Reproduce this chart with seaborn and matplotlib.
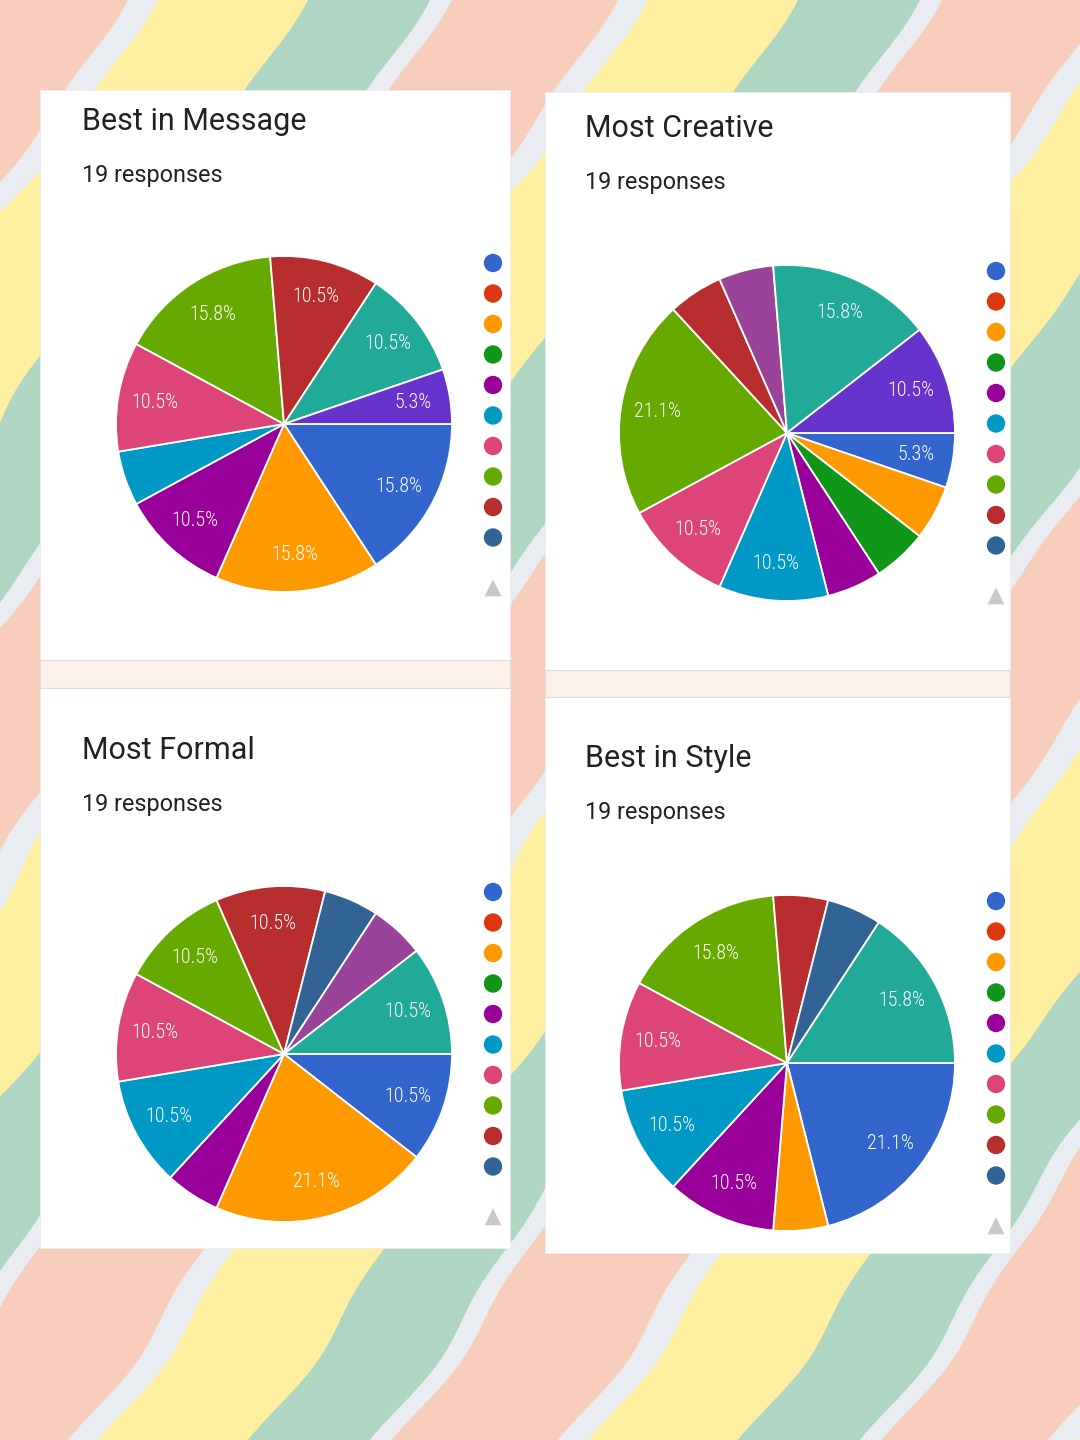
import numpy as np
import pandas as pd
import matplotlib
matplotlib.use("Agg")
import matplotlib.pyplot as plt
from matplotlib.patches import Rectangle, Polygon
from matplotlib import font_manager
import seaborn as sns

# ---------------- data ----------------
options = ["Option 1", "Option 2", "Option 3", "Option 4", "Option 5", "Option 6",
           "Option 7", "Option 8", "Option 9", "Option 10", "Option 11", "Option 12",
           "Option 13", "Option 14"]
option_colors = ["#3366CC", "#DC3912", "#FF9900", "#109618", "#990099", "#0099C6",
                 "#DD4477", "#66AA00", "#B82E2E", "#316395", "#994499", "#22AA99",
                 "#AAAA11", "#6633CC"]

titles = ["Best in Message", "Most Creative", "Most Formal", "Best in Style"]
subtitles = ["19 responses", "19 responses", "19 responses", "19 responses"]

counts_message = [3, 0, 3, 0, 2, 1, 2, 3, 2, 0, 0, 2, 0, 1]
counts_creative = [1, 0, 1, 1, 1, 2, 2, 4, 1, 0, 1, 3, 0, 2]
counts_formal = [2, 0, 4, 0, 1, 2, 2, 2, 2, 1, 1, 2, 0, 0]
counts_style = [4, 0, 1, 0, 2, 2, 2, 3, 1, 1, 0, 3, 0, 0]

# slices whose percentage label is printed in the reference
labelled_message = [0, 2, 4, 6, 7, 8, 11, 13]
labelled_creative = [0, 5, 6, 7, 11, 13]
labelled_formal = [0, 2, 5, 6, 7, 8, 11]
labelled_style = [0, 4, 5, 6, 7, 11]

legend_count = 10  # legend shows first 10 options, then a "more" arrow

all_counts = [counts_message, counts_creative, counts_formal, counts_style]
all_labelled = [labelled_message, labelled_creative, labelled_formal, labelled_style]

# ---------------- layout (pixels) ----------------
W, H = 1080, 1440
cards = [  # (x0, y0, x1, y1)
    (40, 90, 510, 660), (545, 92, 1010, 670),
    (40, 688, 510, 1248), (545, 697, 1010, 1253)]
strips = [(40, 660, 510, 688), (545, 670, 1010, 697)]
title_pos = [(82, 130), (585, 137), (82, 759), (585, 767)]
sub_pos = [(82, 182), (585, 189), (82, 811), (585, 819)]
pie_centers = [(284, 424), (787, 433), (284, 1054), (787, 1063)]
pie_r = 168
legend_pos = [(493, 263), (996, 271), (493, 892), (996, 901)]
legend_step = 30.5

sns.set_theme(style="white")
plt.rcParams["font.family"] = ["Roboto", "DejaVu Sans"]

avail = {f.name for f in font_manager.fontManager.ttflist}
label_family = "Roboto"
for cand in ["Liberation Sans Narrow", "Roboto Condensed", "Open Sans Condensed"]:
    if cand in avail:
        label_family = cand
        break

fig = plt.figure(figsize=(W / 100, H / 100), dpi=100)
bg = fig.add_axes([0, 0, 1, 1])
bg.set_xlim(0, W)
bg.set_ylim(H, 0)
bg.axis("off")

# ---------------- striped background ----------------
period = 490.0
slope = 0.72
x0 = 125.0
bands = [(0, 30, "#E9EDF2"), (30, 180, "#FEF0A0"), (180, 302, "#AFD5C3"),
         (302, 324, "#E9EDF2"), (324, 490, "#F8CDBB")]
ys = np.linspace(-20, H + 20, 160)
wave = 9 * np.sin(2 * np.pi * ys / 420.0) + 4 * np.sin(2 * np.pi * ys / 150.0 + 1.0)
bg.add_patch(Rectangle((0, 0), W, H, facecolor="#F8CDBB", edgecolor="none", zorder=0))
for k in range(-2, 6):
    for a, b, c in bands:
        left = x0 + k * period + a - slope * ys + wave
        right = x0 + k * period + b - slope * ys + wave
        pts = np.vstack([np.column_stack([left, ys]),
                         np.column_stack([right[::-1], ys[::-1]])])
        bg.add_patch(Polygon(pts, closed=True, facecolor=c, edgecolor=c,
                             linewidth=0.5, zorder=1))

# ---------------- cards ----------------
for (cx0, cy0, cx1, cy1) in cards:
    bg.add_patch(Rectangle((cx0, cy0), cx1 - cx0, cy1 - cy0, facecolor="white",
                           edgecolor="#EDEDED", linewidth=0.5, zorder=2))
for (sx0, sy0, sx1, sy1) in strips:
    bg.add_patch(Rectangle((sx0, sy0), sx1 - sx0, sy1 - sy0, facecolor="#FBF1EA",
                           edgecolor="#E2DCD8", linewidth=0.8, zorder=3))

for i in range(4):
    bg.text(title_pos[i][0], title_pos[i][1], titles[i], fontsize=22,
            color="#202124", ha="left", va="baseline", zorder=4)
    bg.text(sub_pos[i][0], sub_pos[i][1], subtitles[i], fontsize=16.8,
            color="#202124", ha="left", va="baseline", zorder=4)

# ---------------- legends (seaborn scatter) ----------------
for i in range(4):
    lx, ly = legend_pos[i]
    df = pd.DataFrame({
        "x": [lx] * legend_count,
        "y": [ly + j * legend_step for j in range(legend_count)],
        "option": options[:legend_count]})
    sns.scatterplot(data=df, x="x", y="y", hue="option",
                    palette=dict(zip(options, option_colors)),
                    s=175, edgecolor="none", legend=False, ax=bg, zorder=5)
    bg.scatter([lx], [ly + 10.65 * legend_step], marker="^", s=150,
               color="#C9C9C9", edgecolor="none", zorder=5)
bg.set_xlim(0, W)
bg.set_ylim(H, 0)
bg.set_xlabel("")
bg.set_ylabel("")

# ---------------- pies ----------------
for i in range(4):
    cx, cy = pie_centers[i]
    ax = fig.add_axes([(cx - pie_r) / W, 1 - (cy + pie_r) / H,
                       2 * pie_r / W, 2 * pie_r / H])
    counts = all_counts[i]
    idx = [j for j in range(len(options)) if counts[j] > 0]
    vals = [counts[j] for j in idx]
    total = sum(vals)
    cols = [option_colors[j] for j in idx]
    labs = [("%.1f%%" % (100.0 * counts[j] / total)) if j in all_labelled[i] else ""
            for j in idx]
    ax.pie(vals, colors=cols, labels=labs, startangle=0, counterclock=False,
           radius=1.0, labeldistance=0.78,
           wedgeprops=dict(edgecolor="white", linewidth=1.3),
           textprops=dict(color="white", ha="center", va="center",
                          fontsize=14.5, family=label_family, weight="light"))
    ax.set_xlim(-1.0, 1.0)
    ax.set_ylim(-1.0, 1.0)
    ax.set_aspect("equal")
    ax.axis("off")

fig.savefig("out.png", dpi=100)
